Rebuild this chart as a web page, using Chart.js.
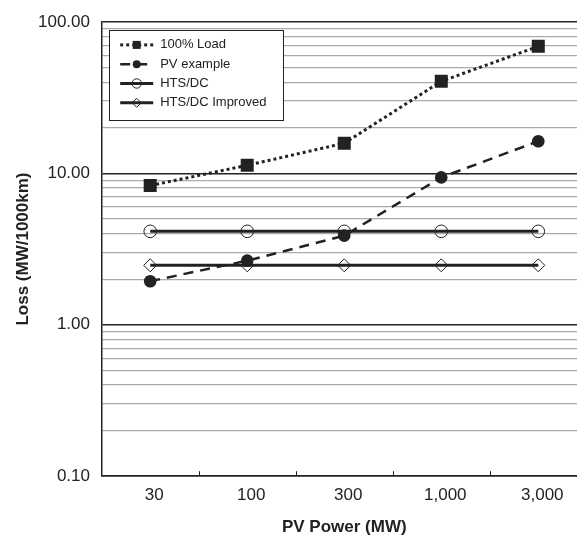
<!DOCTYPE html>
<html>
<head>
<meta charset="utf-8">
<script src="https://cdn.jsdelivr.net/npm/chart.js@4.4.0/dist/chart.umd.min.js"></script>
<style>
  html, body { margin: 0; padding: 0; background: #fff; overflow: hidden; }
  #wrap { width: 596px; height: 538px; }
</style>
</head>
<body>
<!-- canvas is wider than the window: the plot runs past the right edge, as in the original -->
<div id="wrap"><canvas id="lossChart" width="596" height="538"></canvas></div>
<script>
const categories = ['30', '100', '300', '1,000', '3,000'];
const fullLoad = [8.3, 11.3, 15.8, 40.5, 69];
const pvExample = [1.94, 2.65, 3.88, 9.4, 16.3];
const htsDc = [4.14, 4.14, 4.14, 4.14, 4.14];
const htsDcImproved = [2.47, 2.47, 2.47, 2.47, 2.47];
const yMajorTicks = [0.1, 1, 10, 100];
const yTickLabels = ['0.10', '1.00', '10.00', '100.00'];

const ink = '#222';
const fontFamily = "'Liberation Sans', Arial, sans-serif";

function majorIndex(v) {
  return yMajorTicks.findIndex(d => Math.abs(d - v) / d < 1e-6);
}

// tick marks between categories, pointing up into the plot
const innerTicks = {
  id: 'innerTicks',
  afterDraw(chart) {
    const xs = chart.scales.x;
    const c = chart.ctx;
    const bottom = chart.chartArea.bottom;
    c.save();
    c.strokeStyle = ink;
    c.lineWidth = 1;
    for (let i = 0; i < categories.length - 1; i++) {
      const x = Math.round((xs.getPixelForValue(i) + xs.getPixelForValue(i + 1)) / 2) + 0.5;
      c.beginPath();
      c.moveTo(x, bottom);
      c.lineTo(x, bottom - 5);
      c.stroke();
    }
    c.restore();
  }
};

function marker(c, style, x, y, r, filled) {
  c.beginPath();
  if (style === 'rect') {
    c.rect(x - r, y - r, 2 * r, 2 * r);
  } else if (style === 'rectRot') {
    c.moveTo(x - r, y); c.lineTo(x, y - r); c.lineTo(x + r, y); c.lineTo(x, y + r); c.closePath();
  } else {
    c.arc(x, y, r, 0, Math.PI * 2);
  }
  if (filled) { c.fillStyle = ink; c.fill(); }
  else { c.lineWidth = 1; c.strokeStyle = ink; c.stroke(); }
}

// boxed legend inside the plot, top left
const boxLegend = {
  id: 'boxLegend',
  afterDraw(chart) {
    const c = chart.ctx;
    const a = chart.chartArea;
    const bx = a.left + 7.5, by = a.top + 8, bw = 174, bh = 90;
    c.save();
    c.fillStyle = '#fff';
    c.fillRect(bx, by, bw, bh);
    c.strokeStyle = ink;
    c.lineWidth = 1;
    c.strokeRect(Math.round(bx) + 0.5, Math.round(by) + 0.5, bw, bh);
    const sizes = [4, 4, 4.7, 4.5];
    chart.data.datasets.forEach((ds, i) => {
      const y = by + 15 + i * 19.3;
      const x1 = bx + 11, x2 = bx + 44;
      c.beginPath();
      c.setLineDash(ds.borderDash || []);
      c.lineWidth = ds.borderWidth;
      c.strokeStyle = ink;
      c.moveTo(x1, y);
      c.lineTo(x2, y);
      c.stroke();
      c.setLineDash([]);
      marker(c, ds.pointStyle, (x1 + x2) / 2, y, sizes[i], ds.pointBackgroundColor === ink);
      c.fillStyle = ink;
      c.font = '13px ' + fontFamily;
      c.textBaseline = 'middle';
      c.textAlign = 'left';
      c.fillText(ds.label, bx + 51, y);
    });
    c.restore();
  }
};

const lossChart = new Chart(document.getElementById('lossChart'), {
  type: 'line',
  data: {
    labels: categories,
    datasets: [{
      label: '100% Load',
      data: fullLoad,
      borderColor: ink,
      borderWidth: 3,
      borderDash: [3, 3],
      pointStyle: 'rect',
      pointRadius: 9.2,
      pointBackgroundColor: ink,
      pointBorderColor: ink,
      pointBorderWidth: 0,
      tension: 0
    }, {
      label: 'PV example',
      data: pvExample,
      borderColor: ink,
      borderWidth: 2.5,
      borderDash: [10, 7],
      pointStyle: 'circle',
      pointRadius: 6.3,
      pointBackgroundColor: ink,
      pointBorderColor: ink,
      pointBorderWidth: 0,
      tension: 0
    }, {
      label: 'HTS/DC',
      data: htsDc,
      borderColor: ink,
      borderWidth: 3,
      pointStyle: 'circle',
      pointRadius: 6.3,
      pointBackgroundColor: 'rgba(0,0,0,0)',
      pointBorderColor: ink,
      pointBorderWidth: 1,
      tension: 0
    }, {
      label: 'HTS/DC Improved',
      data: htsDcImproved,
      borderColor: ink,
      borderWidth: 3,
      pointStyle: 'rectRot',
      pointRadius: 6.5,
      pointBackgroundColor: 'rgba(0,0,0,0)',
      pointBorderColor: ink,
      pointBorderWidth: 1,
      tension: 0
    }]
  },
  options: {
    responsive: false,
    animation: false,
    devicePixelRatio: 1,
    layout: { padding: { top: 21, left: 0, right: 0, bottom: 0 } },
    plugins: {
      legend: { display: false },
      tooltip: { enabled: false }
    },
    scales: {
      x: {
        type: 'category',
        offset: true,
        grid: { drawOnChartArea: false, drawTicks: false },
        border: { display: true, color: ink, width: 1.5 },
        ticks: {
          color: ink,
          font: { family: fontFamily, size: 17 },
          padding: 9,
          labelOffset: 4,
          maxRotation: 0,
          autoSkip: false
        },
        title: {
          display: true,
          text: 'PV Power (MW)',
          color: ink,
          font: { family: fontFamily, size: 17, weight: 'bold' },
          padding: { top: 3, bottom: 0 }
        }
      },
      y: {
        type: 'logarithmic',
        min: 0.1,
        max: 100,
        afterBuildTicks(scale) {
          const t = [];
          yMajorTicks.forEach((d, i) => {
            if (i < yMajorTicks.length - 1) {
              for (let k = 1; k < 10; k++) t.push({ value: d * k });
            } else {
              t.push({ value: d });
            }
          });
          scale.ticks = t;
        },
        grid: {
          drawTicks: false,
          color: ctx => majorIndex(ctx.tick.value) >= 0 ? ink : '#aaaaaa',
          lineWidth: ctx => majorIndex(ctx.tick.value) >= 0 ? 1.5 : 1.3
        },
        border: { display: true, color: ink, width: 1.5 },
        ticks: {
          color: ink,
          font: { family: fontFamily, size: 17 },
          padding: 11.7,
          autoSkip: false,
          callback: value => {
            const i = majorIndex(value);
            return i >= 0 ? yTickLabels[i] : '';
          }
        },
        title: {
          display: true,
          text: 'Loss (MW/1000km)',
          color: ink,
          font: { family: fontFamily, size: 17, weight: 'bold' },
          padding: { top: 12.8, bottom: -6.9 }
        }
      }
    }
  },
  plugins: [innerTicks, boxLegend]
});
</script>
</body>
</html>
